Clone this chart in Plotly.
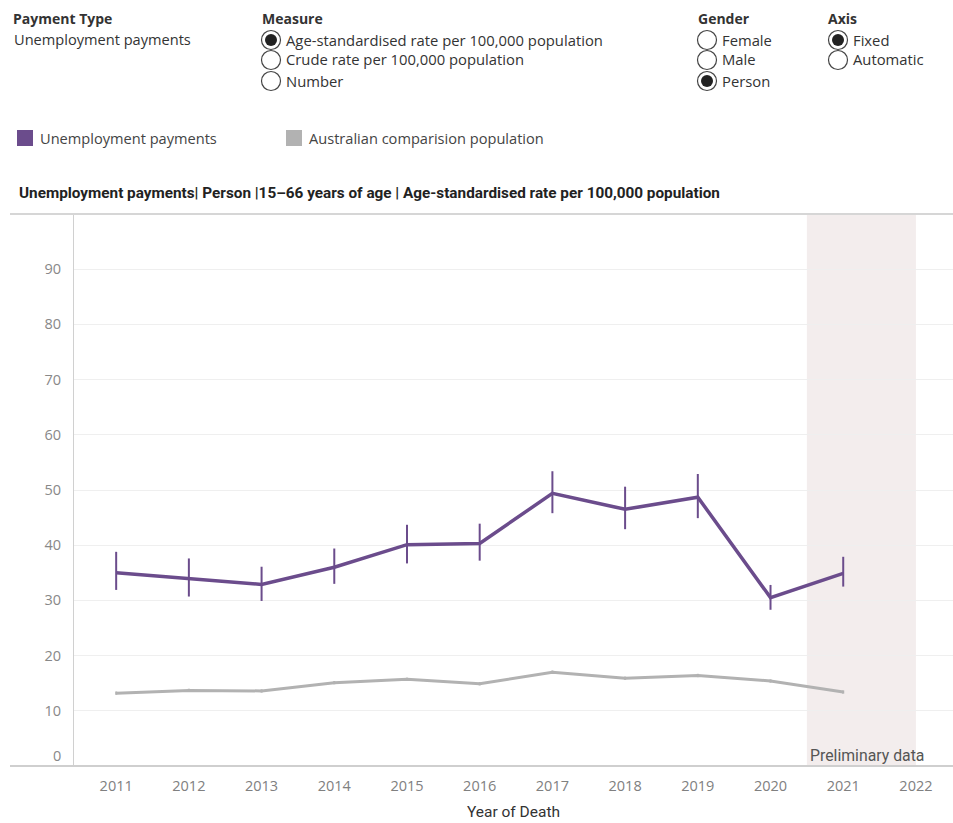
import plotly.graph_objects as go

# ---- data -------------------------------------------------------------
years = [2011, 2012, 2013, 2014, 2015, 2016, 2017, 2018, 2019, 2020, 2021]
unemp_rate = [35.0, 34.0, 32.9, 36.0, 40.1, 40.3, 49.4, 46.5, 48.7, 30.5, 34.9]
unemp_upper = [38.8, 37.6, 36.1, 39.4, 43.7, 43.9, 53.4, 50.6, 52.9, 32.8, 37.9]
unemp_lower = [31.9, 30.7, 29.9, 33.0, 36.7, 37.2, 45.8, 42.9, 44.9, 28.3, 32.5]
aus_rate = [13.2, 13.7, 13.6, 15.1, 15.7, 14.9, 17.0, 15.9, 16.4, 15.4, 13.4]
aus_upper = [13.5, 14.0, 13.9, 15.4, 16.0, 15.2, 17.3, 16.2, 16.7, 15.7, 13.7]
aus_lower = [12.9, 13.4, 13.3, 14.8, 15.4, 14.6, 16.7, 15.6, 16.1, 15.1, 13.1]
x_ticks = [2011, 2012, 2013, 2014, 2015, 2016, 2017, 2018, 2019, 2020, 2021, 2022]
y_ticks = [0, 10, 20, 30, 40, 50, 60, 70, 80, 90]
prelim_start, prelim_end = 2020.5, 2022.0

PURPLE = "#6b4c8c"
GREY = "#b2b2b2"
TXT = "#333333"
FONT = "Open Sans, sans-serif"
COND = "Roboto, sans-serif"

W, H = 953, 823
ML, MR, MT, MB = 74, 0, 214, 57

fig = go.Figure()

# Australian comparison population
fig.add_trace(go.Scatter(
    x=years, y=aus_rate, mode="lines", line=dict(color=GREY, width=3),
    error_y=dict(type="data", symmetric=False,
                 array=[u - v for u, v in zip(aus_upper, aus_rate)],
                 arrayminus=[v - l for v, l in zip(aus_rate, aus_lower)],
                 color=GREY, thickness=2, width=0),
    showlegend=False, hoverinfo="x+y"))

# Unemployment payments, with confidence intervals
fig.add_trace(go.Scatter(
    x=years, y=unemp_rate, mode="lines", line=dict(color=PURPLE, width=3.5),
    error_y=dict(type="data", symmetric=False,
                 array=[u - v for u, v in zip(unemp_upper, unemp_rate)],
                 arrayminus=[v - l for v, l in zip(unemp_rate, unemp_lower)],
                 color=PURPLE, thickness=2, width=0),
    showlegend=False, hoverinfo="x+y"))

shapes = []
# preliminary data band
shapes.append(dict(type="rect", xref="x", yref="paper", x0=prelim_start, x1=prelim_end,
                   y0=0, y1=1, fillcolor="#f3eded", line=dict(width=0), layer="below"))


def px_x(p):
    return (p - ML) / (W - ML - MR)


def px_y(p):
    return (H - MB - p) / (H - MT - MB)


# frame lines above and below the plot
shapes.append(dict(type="line", xref="paper", yref="paper", x0=px_x(10), x1=1,
                   y0=1, y1=1, line=dict(color="#d6d6d6", width=2)))
shapes.append(dict(type="line", xref="paper", yref="paper", x0=px_x(10), x1=1,
                   y0=0, y1=0, line=dict(color="#cfcfcf", width=2)))

# legend swatches
shapes.append(dict(type="rect", xref="paper", yref="paper",
                   x0=px_x(17), x1=px_x(33), y0=px_y(146), y1=px_y(130),
                   fillcolor=PURPLE, line=dict(width=0)))
shapes.append(dict(type="rect", xref="paper", yref="paper",
                   x0=px_x(286), x1=px_x(302), y0=px_y(146), y1=px_y(130),
                   fillcolor=GREY, line=dict(width=0)))

annotations = []


def text(x, y, s, size=14.6, color=TXT, bold=False, family=FONT, anchor="left"):
    annotations.append(dict(xref="paper", yref="paper", x=px_x(x), y=px_y(y),
                            text=f"<b>{s}</b>" if bold else s, showarrow=False,
                            xanchor=anchor, yanchor="middle",
                            font=dict(size=size, color=color, family=family)))


def radio(cx, cy, label, checked):
    r = 9.5
    shapes.append(dict(type="circle", xref="paper", yref="paper",
                       x0=px_x(cx - r), x1=px_x(cx + r), y0=px_y(cy + r), y1=px_y(cy - r),
                       line=dict(color="#444444", width=1.2), fillcolor="white"))
    if checked:
        d = 6
        shapes.append(dict(type="circle", xref="paper", yref="paper",
                           x0=px_x(cx - d), x1=px_x(cx + d), y0=px_y(cy + d), y1=px_y(cy - d),
                           line=dict(width=0), fillcolor="#222222"))
    text(cx + 13, cy - 0.5, label, size=14.8)


# filter controls
text(11, 18, "Payment Type", size=14, bold=True)
text(12, 39, "Unemployment payments")
text(260, 18, "Measure", size=14, bold=True)
radio(271, 40, "Age-standardised rate per 100,000 population", True)
radio(271, 60, "Crude rate per 100,000 population", False)
radio(271, 81, "Number", False)
text(696, 18, "Gender", size=14, bold=True)
radio(707, 40, "Female", False)
radio(707, 60, "Male", False)
radio(707, 81, "Person", True)
text(826, 18, "Axis", size=14, bold=True)
radio(838, 40, "Fixed", True)
radio(838, 60, "Automatic", False)

# legend labels
text(38, 138, "Unemployment payments", color="#444444")
text(307, 138, "Australian comparision population", color="#444444")

# chart title
text(17, 193, "Unemployment payments| Person |15–66 years of age | Age-standardised rate per 100,000 population",
     size=15.3, color="#222222", bold=True, family=COND)

# zero label sits just above the baseline
annotations.append(dict(xref="paper", yref="y", x=px_x(63), y=0, yshift=11,
                        text="0", showarrow=False, xanchor="right", yanchor="middle",
                        font=dict(size=14.5, color="#888888", family=FONT)))

# preliminary data label
annotations.append(dict(xref="x", yref="y", x=prelim_start, y=0, yshift=11, xshift=1,
                        text="Preliminary data", showarrow=False, xanchor="left",
                        yanchor="middle",
                        font=dict(size=15.8, color="#555555", family=COND)))

fig.update_layout(
    width=W, height=H,
    margin=dict(l=ML, r=MR, t=MT, b=MB),
    paper_bgcolor="white", plot_bgcolor="white",
    shapes=shapes, annotations=annotations,
    showlegend=False,
    xaxis=dict(range=[2010.42, 2022.51], tickvals=x_ticks,
               ticktext=[str(t) for t in x_ticks],
               showgrid=False, zeroline=False, showline=False,
               ticks="", ticklabelstandoff=9,
               tickfont=dict(size=14.5, color="#808080", family=FONT),
               title=dict(text="Year of Death", standoff=12,
                          font=dict(size=15.5, color="#333333", family=COND))),
    yaxis=dict(range=[0, 100], tickvals=y_ticks,
               ticktext=["" if t == 0 else str(t) for t in y_ticks],
               showgrid=True, gridcolor="#efefef", gridwidth=1,
               zeroline=False, showline=True, linecolor="#d0d0d0", linewidth=1,
               ticks="", ticklabelstandoff=9,
               tickfont=dict(size=14.5, color="#888888", family=FONT)),
)

fig.write_html("out.html")
